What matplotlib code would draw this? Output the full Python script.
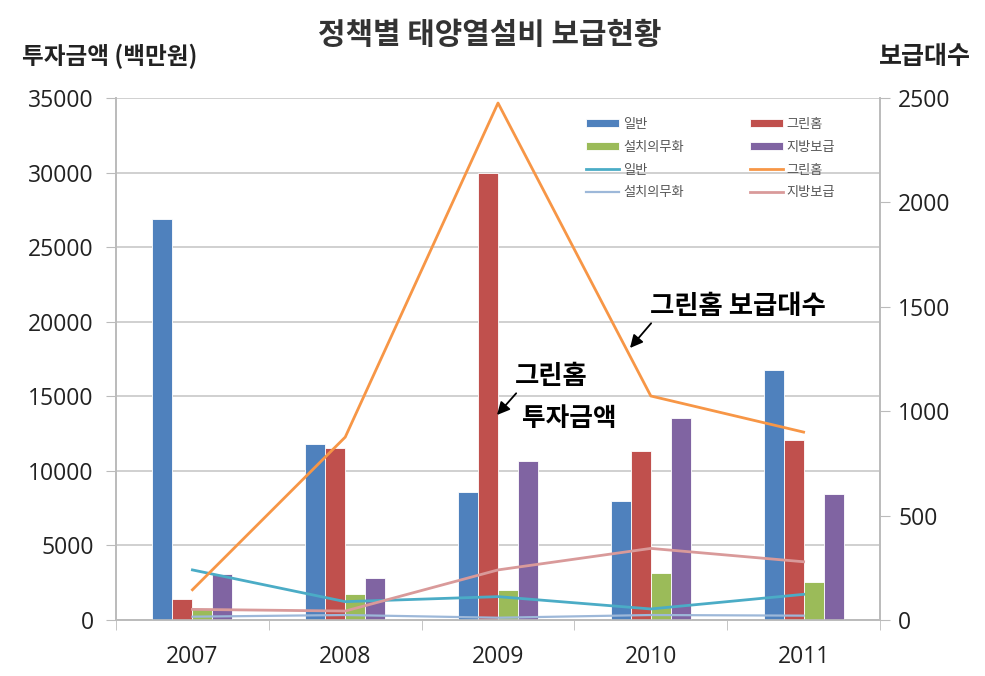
import matplotlib
matplotlib.use("Agg")
import matplotlib.pyplot as plt
import numpy as np

plt.rcParams['font.family'] = ['Noto Sans CJK KR', 'DejaVu Sans']

years = ["2007", "2008", "2009", "2010", "2011"]
series = ["일반", "그린홈", "설치의무화", "지방보급"]

# 투자금액 (백만원) - bars, left axis
invest_general = [26900, 11800, 8600, 7950, 16750]
invest_greenhome = [1420, 11550, 30000, 11300, 12100]
invest_mandatory = [830, 1720, 2020, 3130, 2570]
invest_local = [3070, 2820, 10650, 13550, 8450]

# 보급대수 - lines, right axis
units_general = [240, 88, 112, 53, 123]
units_greenhome = [145, 876, 2476, 1073, 900]
units_mandatory = [16, 24, 11, 24, 21]
units_local = [51, 43, 240, 343, 279]

bar_colors = ["#4F81BD", "#C0504D", "#9BBB59", "#8064A2"]
line_colors = ["#4BACC6", "#F79646", "#9DB8D9", "#D99A9A"]

fig = plt.figure(figsize=(9.85, 6.76), dpi=100)
ax = fig.add_axes([0.1178, 0.0828, 0.7756, 0.7722])
ax2 = ax.twinx()

x = np.arange(len(years))
w = 0.131
bar_data = [invest_general, invest_greenhome, invest_mandatory, invest_local]
bars = []
for i, (vals, c) in enumerate(zip(bar_data, bar_colors)):
    b = ax.bar(x + (i - 1.5) * w, vals, width=w, color=c, edgecolor="white",
               linewidth=0.6, label=series[i], zorder=3)
    bars.append(b)

line_data = [units_general, units_greenhome, units_mandatory, units_local]
line_widths = [2.0, 2.0, 1.6, 2.0]
lines = []
for i, (vals, c) in enumerate(zip(line_data, line_colors)):
    l, = ax2.plot(x, vals, color=c, lw=line_widths[i], label=series[i], zorder=4)
    lines.append(l)

ax.set_xlim(-0.5, 4.5)
ax.set_ylim(0, 35000)
ax2.set_ylim(0, 2500)
ax.set_yticks(np.arange(0, 35001, 5000))
ax2.set_yticks(np.arange(0, 2501, 500))
ax.set_xticks(x)
ax.set_xticklabels(years)
ax.set_xticks(np.arange(-0.5, 5, 1), minor=True)

ax.grid(axis="y", color="#C8C8C8", lw=1.2, zorder=0)
ax.set_axisbelow(True)
for a in (ax, ax2):
    a.spines["top"].set_visible(False)
    for s in ("left", "right", "bottom"):
        a.spines[s].set_color("#BBBBBB")
        a.spines[s].set_linewidth(1.2)

ax.tick_params(axis="y", length=7, color="#BBBBBB", labelsize=16.5, pad=9, labelcolor="#222222")
ax2.tick_params(axis="y", length=7, color="#BBBBBB", labelsize=16.5, pad=6, labelcolor="#222222")
ax.tick_params(axis="x", which="major", length=0, labelsize=16.5, pad=18, labelcolor="#222222")
ax.tick_params(axis="x", which="minor", length=7, color="#BBBBBB")
for lab in ax.get_yticklabels() + ax2.get_yticklabels() + ax.get_xticklabels():
    lab.set_family(["Open Sans", "DejaVu Sans"])

fig.text(0.497, 0.948, "정책별 태양열설비 보급현황", ha="center", va="center",
         fontsize=21.5, fontweight="bold", color="#333333")
fig.text(0.022, 0.916, "투자금액 (백만원)", ha="left", va="center",
         fontsize=17, fontweight="bold", color="#222222")
fig.text(0.986, 0.916, "보급대수", ha="right", va="center",
         fontsize=18, fontweight="bold", color="#222222")

handles = [bars[0], bars[2], lines[0], lines[2], bars[1], bars[3], lines[1], lines[3]]
labels = [series[0], series[2], series[0], series[2], series[1], series[3], series[1], series[3]]
leg = ax2.legend(handles, labels, ncol=2, frameon=False, fontsize=9.5,
                 loc="upper left", bbox_to_anchor=(0.6, 0.985),
                 handlelength=2.5, handleheight=0.5, columnspacing=5.0,
                 labelspacing=0.75, handletextpad=0.3, labelcolor="#555555")

ax2.annotate("그린홈 보급대수", xy=(630, 676 - 348), xycoords="figure pixels",
             xytext=(650, 676 - 307), textcoords="figure pixels",
             fontsize=19, fontweight="bold", style="italic", va="center", ha="left",
             arrowprops=dict(arrowstyle="-|>", color="black", lw=1.3,
                             shrinkA=0, shrinkB=0, relpos=(0.02, 0.0)))
ax2.annotate("그린홈", xy=(497, 676 - 415), xycoords="figure pixels",
             xytext=(515, 676 - 377), textcoords="figure pixels",
             fontsize=19, fontweight="bold", style="italic", va="center", ha="left",
             arrowprops=dict(arrowstyle="-|>", color="black", lw=1.3,
                             shrinkA=0, shrinkB=0, relpos=(0.05, 0.0)))
fig.text(522 / 985, 1 - 418 / 676, "투자금액", fontsize=18.5, fontweight="bold",
         style="italic", va="center", ha="left")

fig.savefig("out.png", dpi=100)
